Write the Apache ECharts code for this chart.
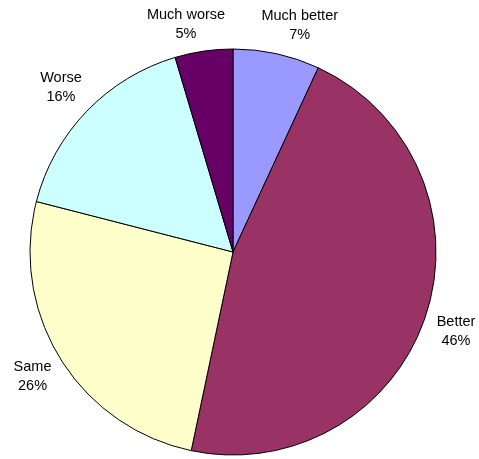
<!DOCTYPE html>
<html>
<head>
<meta charset="utf-8">
<script src="https://cdn.jsdelivr.net/npm/echarts@6/dist/echarts.min.js"></script>
<style>
html,body{margin:0;padding:0;background:#fff;}
#chart{width:479px;height:459px;}
</style>
</head>
<body>
<div id="chart"></div>
<script>
const categories = ['Much better', 'Better', 'Same', 'Worse', 'Much worse'];
const values = [6.9, 46.4, 25.7, 16.4, 4.6];
const colors = ['#9999FF', '#993366', '#FFFFCC', '#CCFFFF', '#660066'];

// small label nudges (pixels) to mimic the original label placement
const labelNudge = [[16, 4], [-1, 5], [0, 0], [-2, -1], [-13, 6]];

const chart = echarts.init(document.getElementById('chart'), null, {renderer: 'canvas'});
chart.setOption({
  animation: false,
  backgroundColor: '#ffffff',
  series: [{
    type: 'pie',
    center: [233, 252],
    radius: [0, 203],
    startAngle: 90,
    clockwise: true,
    avoidLabelOverlap: false,
    itemStyle: {borderColor: '#000', borderWidth: 1},
    label: {
      show: true,
      position: 'outside',
      formatter: function (p) { return p.name + '\n' + Math.round(p.percent) + '%'; },
      fontFamily: 'Liberation Sans, Arial, sans-serif',
      fontSize: 14.5,
      lineHeight: 19,
      color: '#000',
      distanceToLabelLine: 0
    },
    labelLine: {show: false, length: 33, length2: 0},
    labelLayout: function (params) {
      const n = labelNudge[params.dataIndex] || [0, 0];
      return {align: 'center', verticalAlign: 'middle', dx: n[0], dy: n[1]};
    },
    emphasis: {disabled: true},
    data: categories.map((c, i) => ({name: c, value: values[i], itemStyle: {color: colors[i]}}))
  }]
});
</script>
</body>
</html>
